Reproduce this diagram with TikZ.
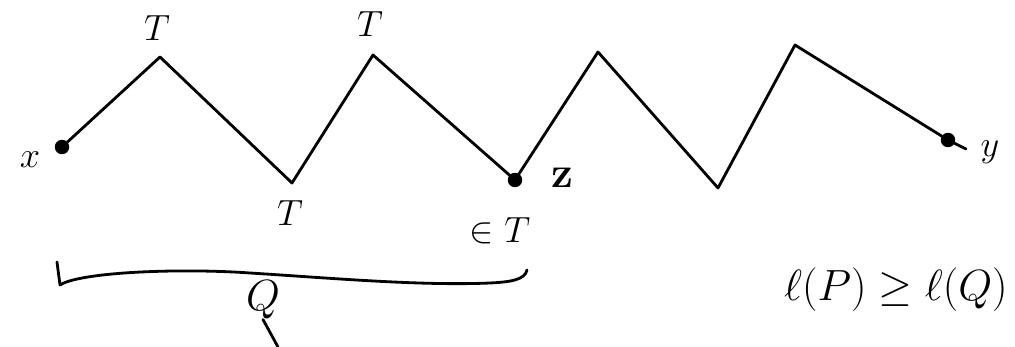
\documentclass[tikz,border=0pt]{standalone}
\usepackage{amssymb}
\begin{document}
\begin{tikzpicture}[x=0.02cm,y=-0.02cm,
  ln/.style={line width=1.6pt,line cap=round,line join=round},
  pt/.style={circle,draw,fill=black,line width=1.2pt,minimum size=7pt,inner sep=0pt},
  lab/.style={font=\fontsize{20}{22}\selectfont,inner sep=0pt}]
\useasboundingbox (0,0) rectangle (1015,347);
\node[pt] (x) at (62,147) {};
\coordinate (p1) at (160,57);
\coordinate (v1) at (292,183);
\coordinate (p2) at (373,55);
\node[pt] (z) at (515,180) {};
\coordinate (p3) at (598,52);
\coordinate (v3) at (718,188);
\coordinate (p4) at (795,45);
\node[pt] (y) at (948,140) {};
\coordinate (yend) at (966,149);
\draw[ln] (x) -- (p1) -- (v1) -- (p2) -- (z.center) -- (p3) -- (v3) -- (p4) -- (y) -- (yend);
\node[lab] (lx) at (30,160) {$x$};
\node[lab] (ly) at (990,152) {$y$};
\node[lab,font=\fontsize{24}{26}\selectfont] (lz) at (562,178) {$\mathbf{z}$};
\node[lab] (t1) at (157,28) {$T$};
\node[lab] (t2) at (370,24) {$T$};
\node[lab] (t3) at (290,213) {$T$};
\node[lab] (t4) at (500,231) {$\in T$};
\draw[ln] (57,262) -- (60,285) .. controls (80,272) and (180,268) .. (250,273)
  .. controls (330,278) and (420,286) .. (490,283) .. controls (510,282) and (525,280) .. (527,270);
\node[lab,font=\fontsize{26}{28}\selectfont] (q) at (263,300) {$Q$};
\coordinate (qt) at (278,347);
\draw[ln] (q.south) -- (qt);
\node[anchor=east,inner sep=0pt,font=\fontsize{25}{30}\selectfont] (ineq) at (1008,290) {$\ell(P)\geq\ell(Q)$};
\end{tikzpicture}
\end{document}
